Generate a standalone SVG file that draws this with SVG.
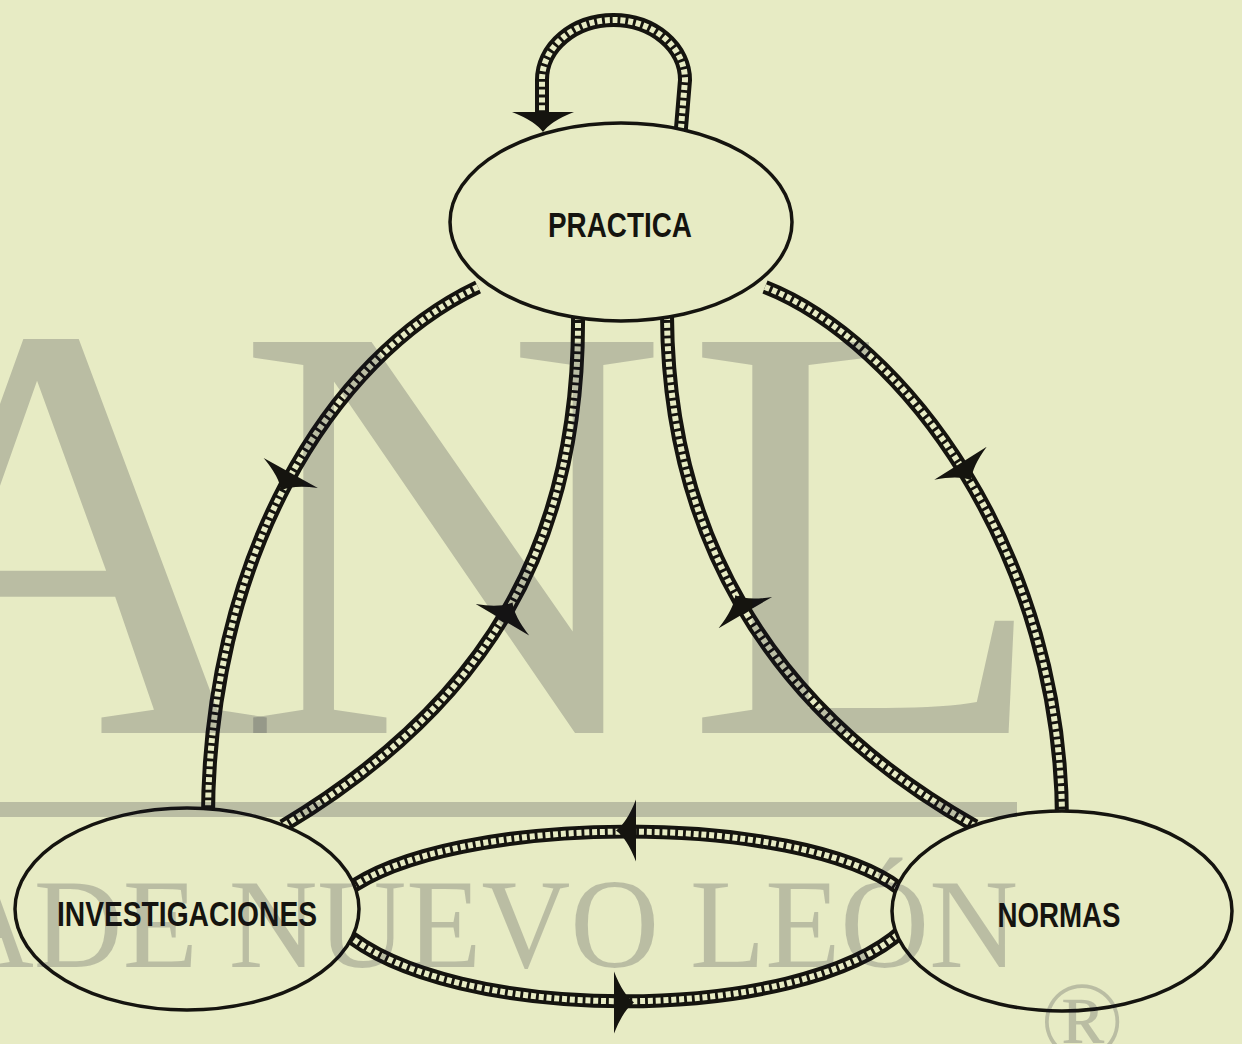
<svg xmlns="http://www.w3.org/2000/svg" width="1242" height="1044" viewBox="0 0 1242 1044">
<style>
.rail{fill:none;stroke:#15140f;stroke-width:14}
.gap{fill:none;stroke:#e7ebc4;stroke-width:6;stroke-dasharray:5 2.8}
.node{fill:#e7ebc4;stroke:#15140f;stroke-width:3.5}
.lbl{font-family:"Liberation Sans",Arial,sans-serif;font-weight:bold;font-size:35px;fill:#15140f;text-anchor:middle}
.ah{fill:#15140f}
.wm{fill:#14142a;fill-opacity:0.21;font-family:"Liberation Serif","Times New Roman",serif}
</style>
<defs>
<path id="ah" d="M11,0 Q0,-8 -9,-31 L-9,31 Q0,8 11,0 Z"/>
</defs>
<rect width="1242" height="1044" fill="#e7ebc4"/>
<g id="connectors">
<path class="rail" d="M542 118 V80 A71.5 60 0 0 1 685 80 L680 140"/>
<path class="gap" d="M542 118 V80 A71.5 60 0 0 1 685 80 L680 140"/>
<path class="rail" d="M478 287 C330 357 205 560 208 830"/>
<path class="gap" d="M478 287 C330 357 205 560 208 830"/>
<path class="rail" d="M578 315 C580 545 485 705 283 826"/>
<path class="gap" d="M578 315 C580 545 485 705 283 826"/>
<path class="rail" d="M667 315 C668 525 760 705 975 826"/>
<path class="gap" d="M667 315 C668 525 760 705 975 826"/>
<path class="rail" d="M765 287 C900 340 1065 550 1062 830"/>
<path class="gap" d="M765 287 C900 340 1065 550 1062 830"/>
<path class="rail" d="M345 892 C450 812 800 812 900 889"/>
<path class="gap" d="M345 892 C450 812 800 812 900 889"/>
<path class="rail" d="M342 930 C450 1025 800 1025 903 930"/>
<path class="gap" d="M342 930 C450 1025 800 1025 903 930"/>
<use href="#ah" class="ah" transform="translate(543,121) rotate(90)"/>
<use href="#ah" class="ah" transform="translate(286.4,480.8) rotate(119)"/>
<use href="#ah" class="ah" transform="translate(507,612) rotate(-59.6)"/>
<use href="#ah" class="ah" transform="translate(740.8,604.8) rotate(-120.3)"/>
<use href="#ah" class="ah" transform="translate(965.3,470.9) rotate(57.8)"/>
<use href="#ah" class="ah" transform="translate(627,830.6) rotate(180)"/>
<use href="#ah" class="ah" transform="translate(623,1002.5)"/>
</g>
<g id="practica">
<ellipse class="node" cx="621" cy="222" rx="171" ry="99"/>
<text class="lbl" x="620" y="237" textLength="144" lengthAdjust="spacingAndGlyphs">PRACTICA</text>
</g>
<g id="investigaciones">
<ellipse class="node" cx="187" cy="909" rx="172" ry="101"/>
<text class="lbl" x="187" y="926" textLength="260" lengthAdjust="spacingAndGlyphs">INVESTIGACIONES</text>
</g>
<g id="normas">
<ellipse class="node" cx="1062" cy="911" rx="170" ry="100"/>
<text class="lbl" x="1059" y="927" textLength="123" lengthAdjust="spacingAndGlyphs">NORMAS</text>
</g>
<g id="watermark" class="wm">
<text font-size="597" x="-160 236 685" y="733">ANL</text>
<rect x="0" y="802" width="1017" height="15"/>
<text font-size="126" x="-55" y="967" textLength="1073" lengthAdjust="spacingAndGlyphs">ADE NUEVO LEÓN</text>
<text font-size="110" x="1082" y="1058" text-anchor="middle">®</text>
</g>
</svg>
